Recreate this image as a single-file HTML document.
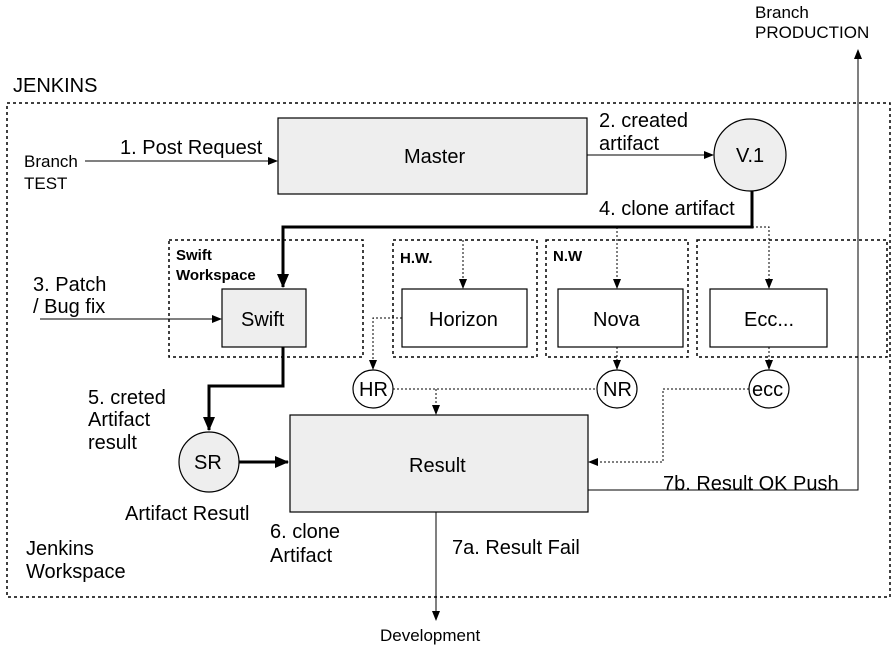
<!DOCTYPE html>
<html><head><meta charset="utf-8"><style>
body{margin:0;background:#fff}
svg text{font-family:"Liberation Sans",sans-serif;fill:#000}
</style></head><body>
<svg width="896" height="657" viewBox="0 0 896 657" xmlns="http://www.w3.org/2000/svg">
<defs>
<marker id="a" markerWidth="10" markerHeight="10" refX="9" refY="5" orient="auto" markerUnits="userSpaceOnUse"><path d="M0,1 L10,5 L0,9 Z" fill="#000"/></marker>
<marker id="b" markerWidth="14" markerHeight="14" refX="13" refY="7" orient="auto" markerUnits="userSpaceOnUse"><path d="M0,1 L14,7 L0,13 Z" fill="#000"/></marker>
</defs>
<g fill="none" stroke="#000" stroke-width="1.5" stroke-dasharray="3,3">
<rect x="7" y="103" width="883" height="494"/>
<rect x="169" y="240" width="194" height="117"/>
<rect x="393" y="240" width="144" height="117"/>
<rect x="546" y="240" width="142" height="117"/>
<rect x="697" y="240" width="190" height="117"/>
</g>
<g stroke="#000" stroke-width="1.2">
<rect x="278" y="118" width="309" height="76" fill="#eee"/>
<circle cx="750" cy="155" r="36" fill="#eee"/>
<rect x="222" y="289" width="84" height="58" fill="#eee"/>
<rect x="402" y="289" width="125" height="58" fill="#fff"/>
<rect x="558" y="289" width="125" height="58" fill="#fff"/>
<rect x="710" y="289" width="117" height="58" fill="#fff"/>
<ellipse cx="373" cy="389" rx="20" ry="19" fill="#fff"/>
<ellipse cx="617" cy="389" rx="20" ry="19" fill="#fff"/>
<ellipse cx="769" cy="389" rx="20" ry="19" fill="#fff"/>
<rect x="290" y="415" width="298" height="97" fill="#eee"/>
<circle cx="209" cy="462" r="30" fill="#eee"/>
</g>
<g fill="none" stroke="#000" stroke-width="3">
<path d="M752 191 V227 H283 V287" marker-end="url(#b)"/>
<path d="M283 347 V386 H209 V430" marker-end="url(#b)"/>
<path d="M239 462 H288" marker-end="url(#b)"/>
</g>
<g fill="none" stroke="#000" stroke-width="1">
<path d="M85 161 H277" marker-end="url(#a)"/>
<path d="M40 319 H221" marker-end="url(#a)"/>
<path d="M587 155 H713" marker-end="url(#a)"/>
<path d="M588 490 H858 V50" marker-end="url(#a)"/>
<path d="M436 512 V620" marker-end="url(#a)"/>
</g>
<g fill="none" stroke="#000" stroke-width="1" stroke-dasharray="2,2">
<path d="M752 227 H769 V288" marker-end="url(#a)"/>
<path d="M617 227 V288" marker-end="url(#a)"/>
<path d="M463 240 V288" marker-end="url(#a)"/>
<path d="M402 318 H373 V369" marker-end="url(#a)"/>
<path d="M617 347 V369" marker-end="url(#a)"/>
<path d="M769 347 V369" marker-end="url(#a)"/>
<path d="M393 389 H597"/>
<path d="M436 389 V414" marker-end="url(#a)"/>
<path d="M749 389 H663 V462 H589" marker-end="url(#a)"/>
</g>
<g font-size="20">
<text x="13" y="92">JENKINS</text>
<text x="755" y="18" font-size="17">Branch</text>
<text x="755" y="38" font-size="17">PRODUCTION</text>
<text x="24" y="167" font-size="17">Branch</text>
<text x="24" y="189" font-size="17">TEST</text>
<text x="120" y="154">1.  Post Request</text>
<text x="404" y="163">Master</text>
<text x="599" y="127">2. created</text>
<text x="599" y="150">artifact</text>
<text x="736" y="162">V.1</text>
<text x="599" y="215">4. clone artifact</text>
<text x="176" y="260" font-size="15" font-weight="bold">Swift</text>
<text x="176" y="280" font-size="15" font-weight="bold">Workspace</text>
<text x="400" y="263" font-size="15" font-weight="bold">H.W.</text>
<text x="553" y="261" font-size="15" font-weight="bold">N.W</text>
<text x="33" y="291">3. Patch</text>
<text x="33" y="313">/ Bug fix</text>
<text x="241" y="326">Swift</text>
<text x="429" y="326">Horizon</text>
<text x="593" y="326">Nova</text>
<text x="744" y="326">Ecc...</text>
<text x="359" y="396">HR</text>
<text x="603" y="396">NR</text>
<text x="752" y="396">ecc</text>
<text x="88" y="404">5. creted</text>
<text x="88" y="426">Artifact</text>
<text x="88" y="449">result</text>
<text x="194" y="469">SR</text>
<text x="409" y="472">Result</text>
<text x="125" y="520">Artifact Resutl</text>
<text x="663" y="490">7b. Result OK Push</text>
<text x="270" y="538">6. clone</text>
<text x="270" y="562">Artifact</text>
<text x="452" y="554">7a. Result Fail</text>
<text x="26" y="555">Jenkins</text>
<text x="26" y="578">Workspace</text>
<text x="380" y="641" font-size="17">Development</text>
</g>
</svg>
</body></html>
